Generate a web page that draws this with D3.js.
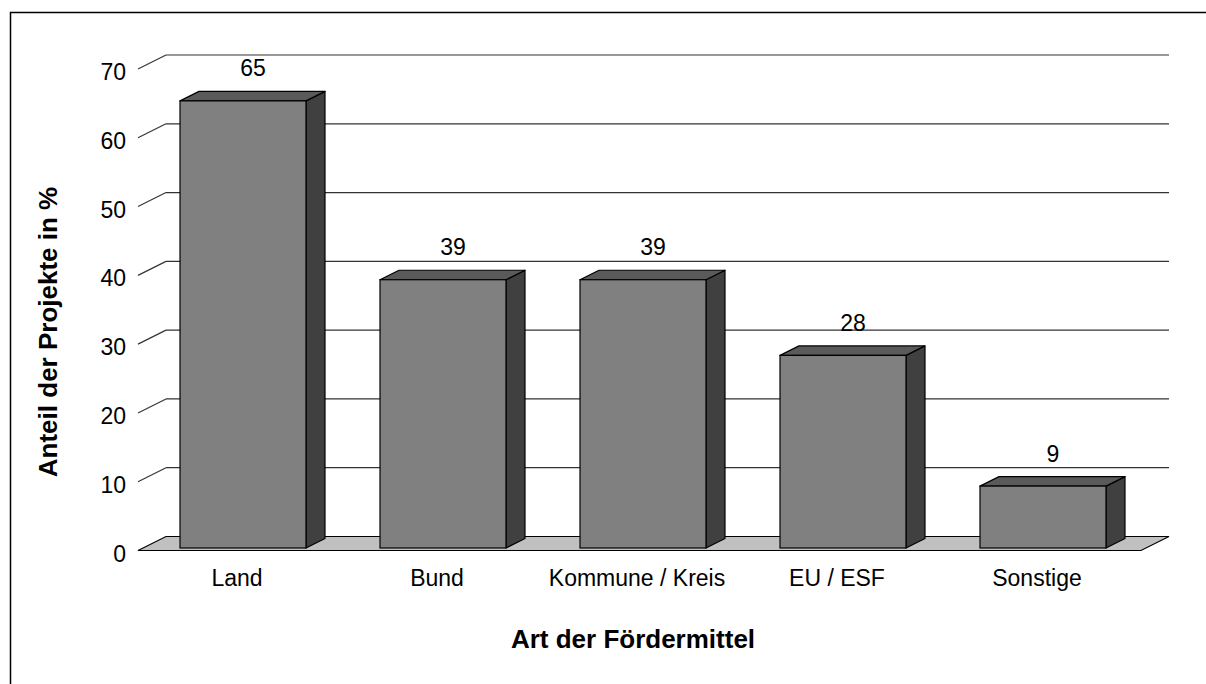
<!DOCTYPE html>
<html>
<head>
<meta charset="utf-8">
<script src="https://cdn.jsdelivr.net/npm/d3@7"></script>
<style>
  body { margin: 0; background: #fff; }
  text { font-family: "Liberation Sans", Arial, sans-serif; fill: #000; }
</style>
</head>
<body>
<svg id="chart" width="1206" height="684"></svg>
<script>
// chart data
var categories = ["Land", "Bund", "Kommune / Kreis", "EU / ESF", "Sonstige"];
var values = [65, 39, 39, 28, 9];
var yTicks = [0, 10, 20, 30, 40, 50, 60, 70];
var yTitle = "Anteil der Projekte in %";
var xTitle = "Art der Fördermittel";

const width = 1206;
const height = 684;
// depth offsets for the fake 3D look
const floorDepth = { dx: -28, dy: 14 };
const barFront = { dx: -23, dy: 11.5 };
const barBack = { dx: -4, dy: 2 };

var svg = d3.select("#chart");

// outer frame (right and bottom edge run off the picture)
svg.append("rect")
    .attr("x", 10.5).attr("y", 12.5)
    .attr("width", width).attr("height", height)
    .attr("fill", "none").attr("stroke", "#000").attr("stroke-width", 1.5);

var x = d3.scaleBand()
    .domain(categories)
    .range([166, 1166])
    .paddingInner(0.37)
    .paddingOuter(0.185);

var y = d3.scaleLinear()
    .domain([0, 70])
    .range([536.5, 55]);

var wallRight = 1169;

// floor
var y0 = y(0);
svg.append("polygon")
    .attr("points", [
        [166, y0], [wallRight, y0],
        [wallRight + floorDepth.dx, y0 + floorDepth.dy],
        [166 + floorDepth.dx, y0 + floorDepth.dy]
    ].join(" "))
    .attr("fill", "#c0c0c0").attr("stroke", "#000").attr("stroke-width", 1.2);

// gridlines on the back wall and slanted ticks on the left wall
var grid = svg.append("g");
yTicks.filter(d => d > 0).forEach(function(t) {
    grid.append("line")
        .attr("x1", 166).attr("y1", y(t))
        .attr("x2", wallRight).attr("y2", y(t))
        .attr("stroke", "#333").attr("stroke-width", 1.2);
    grid.append("line")
        .attr("x1", 166 + floorDepth.dx).attr("y1", y(t) + floorDepth.dy)
        .attr("x2", 166).attr("y2", y(t))
        .attr("stroke", "#333").attr("stroke-width", 1.2);
});

// y tick labels
svg.append("g").selectAll("text")
    .data(yTicks)
    .enter().append("text")
    .attr("x", 126)
    .attr("y", d => y(d) + floorDepth.dy + 11)
    .attr("text-anchor", "end")
    .attr("font-size", 23)
    .text(d => d);

// bars
var bars = svg.append("g").selectAll("g")
    .data(categories.map((c, i) => ({ cat: c, val: values[i] })))
    .enter().append("g");

bars.each(function(d) {
    var g = d3.select(this);
    var b0 = x(d.cat), b1 = x(d.cat) + x.bandwidth();
    var yv = y(d.val);
    // side
    g.append("polygon")
        .attr("points", [
            [b1 + barFront.dx, yv + barFront.dy], [b1 + barBack.dx, yv + barBack.dy],
            [b1 + barBack.dx, y0 + barBack.dy], [b1 + barFront.dx, y0 + barFront.dy]
        ].join(" "))
        .attr("fill", "#404040").attr("stroke", "#000").attr("stroke-width", 1.2)
        .attr("stroke-linejoin", "round");
    // top
    g.append("polygon")
        .attr("points", [
            [b0 + barFront.dx, yv + barFront.dy], [b1 + barFront.dx, yv + barFront.dy],
            [b1 + barBack.dx, yv + barBack.dy], [b0 + barBack.dx, yv + barBack.dy]
        ].join(" "))
        .attr("fill", "#5a5a5a").attr("stroke", "#000").attr("stroke-width", 1.2)
        .attr("stroke-linejoin", "round");
    // front
    g.append("rect")
        .attr("x", b0 + barFront.dx)
        .attr("y", yv + barFront.dy)
        .attr("width", b1 - b0)
        .attr("height", y0 - yv)
        .attr("fill", "#808080").attr("stroke", "#000").attr("stroke-width", 1.2);
    // value label
    g.append("text")
        .attr("x", (b0 + b1) / 2 - 13)
        .attr("y", yv + barBack.dy - 15)
        .attr("text-anchor", "middle")
        .attr("font-size", 23)
        .text(d.val);
});

// category labels
svg.append("g").selectAll("text")
    .data(categories)
    .enter().append("text")
    .attr("x", d => x(d) + x.bandwidth() / 2 - 29)
    .attr("y", 586)
    .attr("text-anchor", "middle")
    .attr("font-size", 23)
    .text(d => d);

// axis titles
svg.append("text")
    .attr("transform", "translate(57,332) rotate(-90)")
    .attr("text-anchor", "middle")
    .attr("font-size", 26)
    .attr("font-weight", "bold")
    .text(yTitle);

svg.append("text")
    .attr("x", 633)
    .attr("y", 648)
    .attr("text-anchor", "middle")
    .attr("font-size", 26)
    .attr("font-weight", "bold")
    .text(xTitle);
</script>
</body>
</html>
